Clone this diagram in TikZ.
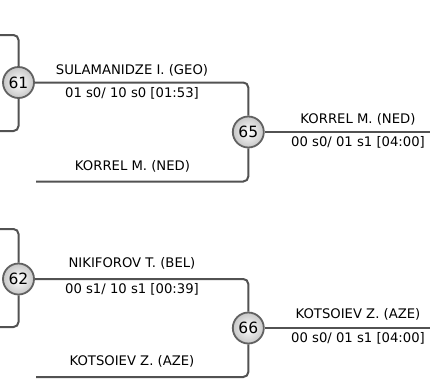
\documentclass[tikz,border=0pt]{standalone}
\usepackage{fontspec}
\setmainfont{DejaVu Sans}
\begin{document}
\begin{tikzpicture}[x=1pt,y=-1pt,
  wire/.style={draw=black!68,line width=2pt,rounded corners=5pt},
  bout/.style={circle,draw=black!62,line width=1.8pt,minimum size=31pt,inner sep=0pt,
    inner color=white,outer color=black!22,font=\fontsize{15.5}{17}\selectfont},
  lbl/.style={anchor=base,inner sep=0pt,font=\fontsize{13.2}{15}\selectfont}]
\useasboundingbox (0,0) rectangle (430,381);
% coordinates for free ends
\coordinate (t61) at (0,35);
\coordinate (b61) at (0,131);
\coordinate (l65) at (36,181.5);
\coordinate (r65) at (430,132);
\coordinate (t62) at (0,229);
\coordinate (b62) at (0,327);
\coordinate (l66) at (36,377);
\coordinate (r66) at (430,328);
% circles
\node[bout] (c61) at (18.5,82.5) {61};
\node[bout] (c65) at (248.3,132) {65};
\node[bout] (c62) at (18.5,279) {62};
\node[bout] (c66) at (248.3,328) {66};
% wires
\draw[wire] (t61) -| (c61.north);
\draw[wire] (b61) -| (c61.south);
\draw[wire] (c61.east) -| (c65.north);
\draw[wire] (l65) -| (c65.south);
\draw[wire] (c65.east) -- (r65);
\draw[wire] (t62) -| (c62.north);
\draw[wire] (b62) -| (c62.south);
\draw[wire] (c62.east) -| (c66.north);
\draw[wire] (l66) -| (c66.south);
\draw[wire] (c66.east) -- (r66);
% labels
\node[lbl] (n1) at (132,74.3) {SULAMANIDZE I. (GEO)};
\node[lbl] (s1) at (132,97.3) {01 s0/ 10 s0 [01:53]};
\node[lbl] (n2) at (132.5,170) {KORREL M. (NED)};
\node[lbl] (n3) at (358,123) {KORREL M. (NED)};
\node[lbl] (s3) at (358,146.5) {00 s0/ 01 s1 [04:00]};
\node[lbl] (n4) at (132,267) {NIKIFOROV T. (BEL)};
\node[lbl] (s4) at (132,293) {00 s1/ 10 s1 [00:39]};
\node[lbl] (n5) at (132,365) {KOTSOIEV Z. (AZE)};
\node[lbl] (n6) at (358,318) {KOTSOIEV Z. (AZE)};
\node[lbl] (s6) at (358,342) {00 s0/ 01 s1 [04:00]};
\end{tikzpicture}
\end{document}
